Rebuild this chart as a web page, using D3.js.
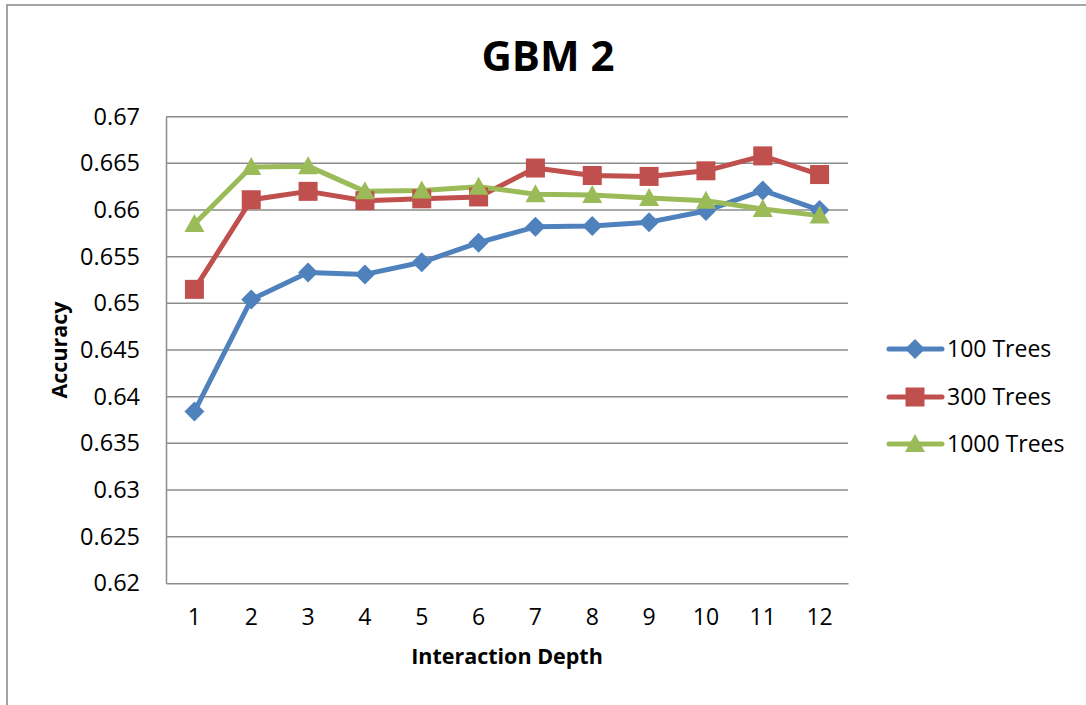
<!DOCTYPE html>
<html><head><meta charset="utf-8">
<script src="https://cdn.jsdelivr.net/npm/d3@7"></script>
<style>html,body{margin:0;padding:0;background:#fff;}svg{display:block;font-family:"Open Sans",Lato,sans-serif;}</style>
</head><body>
<svg id="chart" width="1086" height="705"></svg>
<script>
const categories = [1,2,3,4,5,6,7,8,9,10,11,12];
const trees100 = [0.6384,0.6504,0.6533,0.6531,0.6544,0.6565,0.6582,0.6583,0.6587,0.6599,0.6621,0.6600];
const trees300 = [0.6515,0.6611,0.6620,0.6610,0.6612,0.6614,0.6645,0.6637,0.6636,0.6642,0.6658,0.6638];
const trees1000 = [0.6585,0.6646,0.6647,0.6620,0.6621,0.6625,0.6617,0.6616,0.6613,0.6610,0.6601,0.6594];
const yTicks = [0.62,0.625,0.63,0.635,0.64,0.645,0.65,0.655,0.66,0.665,0.67];
const seriesNames = ["100 Trees","300 Trees","1000 Trees"];
const seriesColors = ["#4F81BD","#C0504D","#9BBB59"];
const seriesShapes = ["diamond","square","triangle"];
const seriesValues = [trees100, trees300, trees1000];

const svg = d3.select("#chart");
const L = 166, R = 848, T = 116.7, B = 583.3;
const FONT = "'Open Sans', Lato, sans-serif";

// outer border
svg.append("rect").attr("x",7).attr("y",5).attr("width",1200).attr("height",800)
  .attr("fill","none").attr("stroke","#868686").attr("stroke-width",1.5);

const x = d3.scaleBand().domain(categories).range([L,R]);
const y = d3.scaleLinear().domain([0.62,0.67]).range([B,T]);

// gridlines
svg.append("g").selectAll("line").data(yTicks.filter(t=>t>0.62)).join("line")
  .attr("x1",L).attr("x2",R).attr("y1",d=>y(d)).attr("y2",d=>y(d))
  .attr("stroke","#8c8c8c").attr("stroke-width",1.5);

// axes
const yAxis = svg.append("g").attr("transform",`translate(${L},0)`)
  .call(d3.axisLeft(y).tickValues(yTicks).tickFormat(d=>String(+d.toFixed(3))).tickSize(0).tickPadding(26));
yAxis.select(".domain").attr("stroke","#8c8c8c").attr("stroke-width",1.5);
yAxis.selectAll("text").attr("font-size",23.5).attr("fill","#000").attr("font-family",FONT);

const xAxis = svg.append("g").attr("transform",`translate(0,${B})`)
  .call(d3.axisBottom(x).tickSize(0).tickPadding(25));
xAxis.select(".domain").attr("stroke","#8c8c8c").attr("stroke-width",1.5);
xAxis.selectAll("text").attr("font-size",23).attr("fill","#000").attr("font-family",FONT);

// title and axis labels
svg.append("text").attr("x",548).attr("y",71).attr("text-anchor","middle")
  .attr("font-size",42).attr("font-weight","bold").text("GBM 2");
svg.append("text").attr("x",507).attr("y",664).attr("text-anchor","middle")
  .attr("font-size",21.5).attr("font-weight","bold").text("Interaction Depth");
svg.append("text").attr("transform","translate(67,350) rotate(-90)").attr("text-anchor","middle")
  .attr("font-size",21.5).attr("font-weight","bold").text("Accuracy");

function marker(sel, shape, color){
  if(shape==="diamond"){
    sel.append("path").attr("d","M0,-10L10,0L0,10L-10,0Z").attr("fill",color);
  } else if(shape==="square"){
    sel.append("rect").attr("x",-9.5).attr("y",-9.5).attr("width",19).attr("height",19).attr("fill",color);
  } else {
    sel.append("path").attr("d","M0,-10L10,8L-10,8Z").attr("fill",color);
  }
}

const line = d3.line().x((d,i)=>x(categories[i])+x.bandwidth()/2).y(d=>y(d));
seriesValues.forEach((vals,si)=>{
  svg.append("path").datum(vals).attr("d",line).attr("fill","none")
    .attr("stroke",seriesColors[si]).attr("stroke-width",5).attr("stroke-linejoin","round").attr("stroke-linecap","round");
});
seriesValues.forEach((vals,si)=>{
  vals.forEach((v,i)=>{
    const g = svg.append("g").attr("transform",`translate(${x(categories[i])+x.bandwidth()/2},${y(v)})`);
    marker(g, seriesShapes[si], seriesColors[si]);
  });
});

// legend
const legY = [349,397,444];
seriesNames.forEach((n,i)=>{
  const g = svg.append("g").attr("transform",`translate(0,${legY[i]})`);
  g.append("line").attr("x1",889).attr("x2",942).attr("y1",0).attr("y2",0)
    .attr("stroke",seriesColors[i]).attr("stroke-width",5).attr("stroke-linecap","round");
  const m = g.append("g").attr("transform","translate(915,0)");
  marker(m, seriesShapes[i], seriesColors[i]);
  g.append("text").attr("x",947).attr("y",8).attr("font-size",23).text(n);
});
</script>
</body></html>
